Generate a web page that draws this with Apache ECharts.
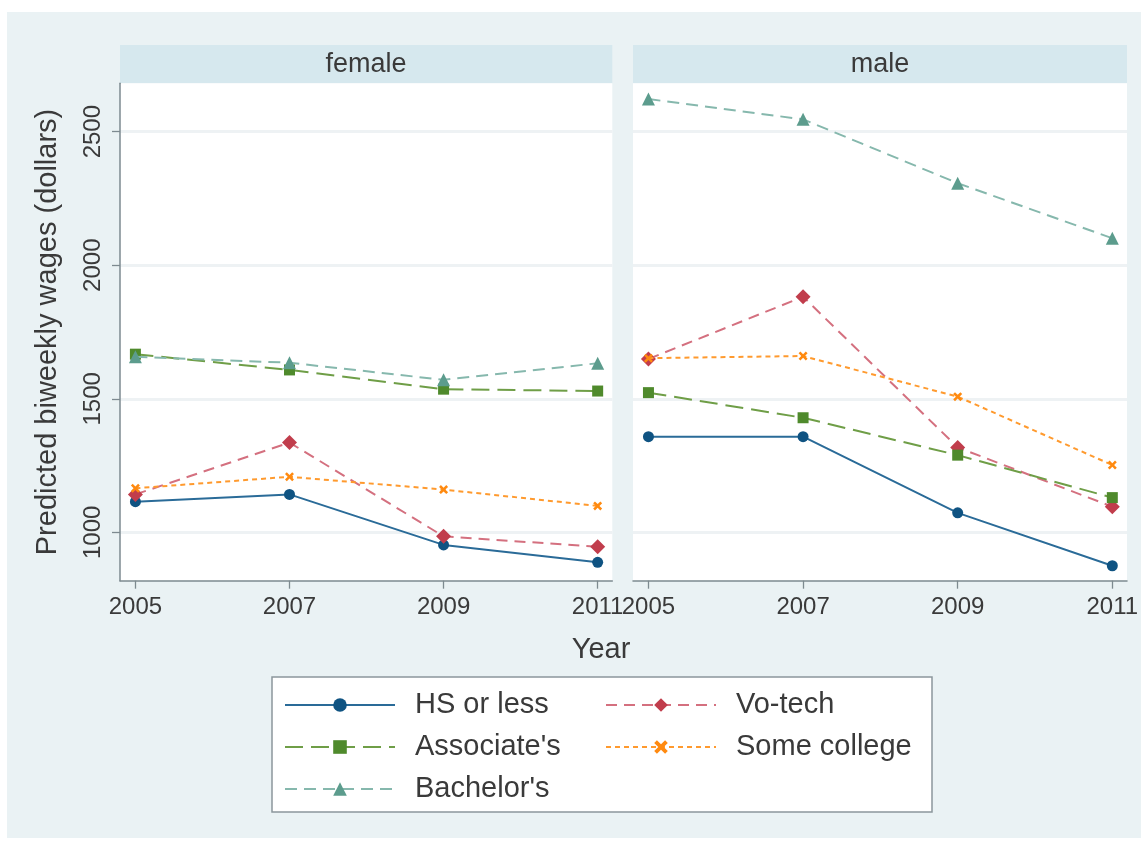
<!DOCTYPE html>
<html>
<head>
<meta charset="utf-8">
<script src="https://cdn.jsdelivr.net/npm/echarts@6/dist/echarts.min.js"></script>
<style>
  html, body { margin: 0; padding: 0; background: #ffffff; }
  #chart { width: 1148px; height: 842px; }
</style>
</head>
<body>
<div id="chart"></div>
<script>
// Survey years on the x axis and wage ticks on the y axis
const years = [2005, 2007, 2009, 2011];
const yTicks = [1000, 1500, 2000, 2500];
const panelNames = ['female', 'male'];
const groupNames = ['HS or less', 'Vo-tech', "Associate's", 'Some college', "Bachelor's"];

// Predicted biweekly wages (dollars), women
const femaleHS = [1115, 1142, 953, 888];
const femaleVoTech = [1142, 1336, 985, 946];
const femaleAssociate = [1667, 1608, 1536, 1529];
const femaleSomeCollege = [1165, 1208, 1160, 1099];
const femaleBachelor = [1657, 1635, 1571, 1633];

// Predicted biweekly wages (dollars), men
const maleHS = [1358, 1358, 1073, 875];
const maleVoTech = [1649, 1882, 1318, 1096];
const maleAssociate = [1523, 1429, 1289, 1130];
const maleSomeCollege = [1652, 1660, 1508, 1252];
const maleBachelor = [2622, 2546, 2307, 2101];

const FONT = '"Liberation Sans", Arial, Helvetica, sans-serif';
const TEXT = '#3a3a3a';
const AXIS = '#7d8a90';

// x-shaped marker as a filled outline
const CROSS = 'path://M0,2L2,0L5,3L8,0L10,2L7,5L10,8L8,10L5,7L2,10L0,8L3,5Z';

const styles = [
  { line: '#2a6b98', mark: '#0f5382', type: 'solid', symbol: 'circle', size: 11 },
  { line: '#d4707f', mark: '#c13d4c', type: [11, 7], symbol: 'diamond', size: 15 },
  { line: '#6f9e47', mark: '#4f8a2c', type: [18, 8], symbol: 'rect', size: 11 },
  { line: '#ff9a2e', mark: '#ff8a10', type: [5, 4], symbol: CROSS, size: 9 },
  { line: '#86b8ad', mark: '#5c9c8d', type: [12, 7], symbol: 'triangle', size: 13 }
];

const panelData = [
  [femaleHS, femaleVoTech, femaleAssociate, femaleSomeCollege, femaleBachelor],
  [maleHS, maleVoTech, maleAssociate, maleSomeCollege, maleBachelor]
];

const grids = [
  { left: 120, top: 83.3, width: 492.3, height: 497.4 },
  { left: 633, top: 83.3, width: 494, height: 497.4 }
];

const xAxes = grids.map((g, i) => ({
  type: 'value',
  gridIndex: i,
  min: 2004.8,
  max: 2011.19,
  axisLine: { show: true, onZero: false, lineStyle: { color: AXIS, width: 1.5 } },
  axisTick: { show: true, length: 8, customValues: years, lineStyle: { color: AXIS, width: 1.3 } },
  axisLabel: {
    customValues: years, margin: 15, fontSize: 24, color: TEXT, fontFamily: FONT,
    formatter: v => String(v)
  },
  splitLine: { show: false }
}));

const yAxes = grids.map((g, i) => ({
  type: 'value',
  gridIndex: i,
  min: 819,
  max: 2681,
  name: i === 0 ? 'Predicted biweekly wages (dollars)' : '',
  nameLocation: 'middle',
  nameGap: 58,
  nameTextStyle: { fontSize: 29, color: TEXT, fontFamily: FONT },
  axisLine: { show: i === 0, onZero: false, lineStyle: { color: AXIS, width: 1.5 } },
  axisTick: { show: i === 0, length: 8, customValues: yTicks, lineStyle: { color: AXIS, width: 1.3 } },
  axisLabel: {
    show: i === 0, customValues: yTicks, rotate: 90, margin: 15,
    fontSize: 24, color: TEXT, fontFamily: FONT,
    formatter: v => String(v)
  },
  splitLine: { show: true, lineStyle: { color: '#eef2f4', width: 3 } }
}));

const series = [];
panelData.forEach((groups, p) => {
  groups.forEach((values, k) => {
    const s = styles[k];
    series.push({
      name: groupNames[k],
      type: 'line',
      xAxisIndex: p,
      yAxisIndex: p,
      data: years.map((yr, j) => [yr, values[j]]),
      symbol: s.symbol,
      symbolSize: s.size,
      showSymbol: true,
      lineStyle: { color: s.line, width: 2, type: s.type },
      itemStyle: { color: s.mark },
      emphasis: { disabled: true },
      animation: false,
      z: 3 + k
    });
  });
});

const legendCommon = {
  orient: 'vertical',
  padding: 0,
  itemWidth: 110,
  itemHeight: 17,
  itemGap: 12,
  selectedMode: false,
  textStyle: {
    fontSize: 29, color: TEXT, fontFamily: FONT,
    lineHeight: 30, padding: [0, 0, 0, 15]
  }
};

const chart = echarts.init(document.getElementById('chart'), null, { renderer: 'canvas' });
chart.setOption({
  animation: false,
  backgroundColor: '#ffffff',
  grid: grids.map(g => Object.assign({ show: true, backgroundColor: '#ffffff', borderWidth: 0 }, g)),
  xAxis: xAxes,
  yAxis: yAxes,
  legend: [
    Object.assign({ left: 284, top: 690, data: [groupNames[0], groupNames[2], groupNames[4]] }, legendCommon),
    Object.assign({ left: 605, top: 690, data: [groupNames[1], groupNames[3]] }, legendCommon)
  ],
  graphic: [
    { type: 'rect', z: -10, silent: true, shape: { x: 7, y: 12, width: 1134, height: 826 }, style: { fill: '#eaf2f4' } },
    { type: 'rect', z: -5, silent: true, shape: { x: 120, y: 45, width: 492.3, height: 38.3 }, style: { fill: '#d6e8ee' } },
    { type: 'rect', z: -5, silent: true, shape: { x: 633, y: 45, width: 494, height: 38.3 }, style: { fill: '#d6e8ee' } },
    { type: 'text', z: 5, silent: true, style: { x: 366, y: 65, text: panelNames[0], font: '27px ' + FONT, fill: TEXT, textAlign: 'center', textVerticalAlign: 'middle' } },
    { type: 'text', z: 5, silent: true, style: { x: 880, y: 65, text: panelNames[1], font: '27px ' + FONT, fill: TEXT, textAlign: 'center', textVerticalAlign: 'middle' } },
    { type: 'text', z: 5, silent: true, style: { x: 601, y: 650, text: 'Year', font: '29px ' + FONT, fill: TEXT, textAlign: 'center', textVerticalAlign: 'middle' } },
    { type: 'rect', z: -4, silent: true, shape: { x: 272, y: 677, width: 660, height: 135 }, style: { fill: '#ffffff', stroke: '#8c979c', lineWidth: 1.5 } }
  ],
  series: series
});
</script>
</body>
</html>
